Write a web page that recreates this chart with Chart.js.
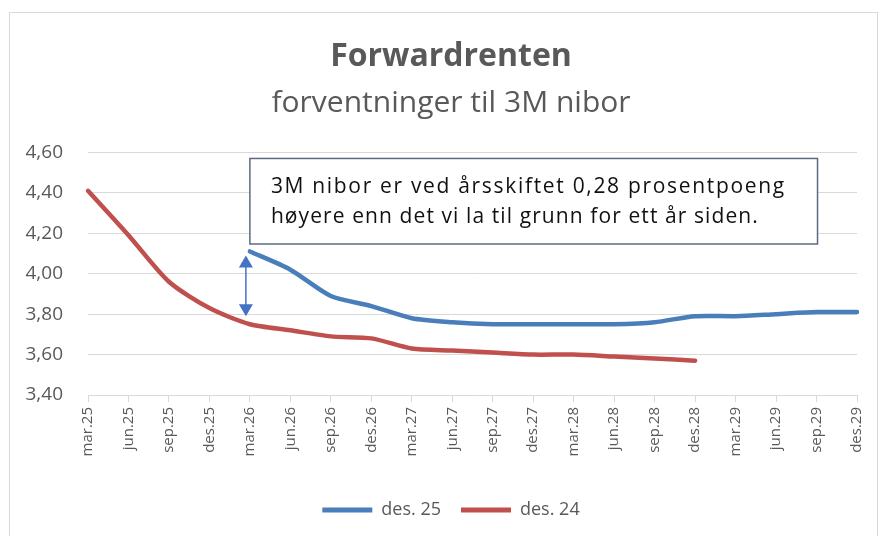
<!DOCTYPE html>
<html lang="no">
<head>
<meta charset="UTF-8">
<title>Forwardrenten</title>
<script src="https://cdn.jsdelivr.net/npm/chart.js@4"></script>
<style>
  html, body { margin: 0; padding: 0; background: #fff; }
  .frame { position: absolute; left: 9px; top: 12px; width: 869px; height: 540px; border: 1px solid #d9d9d9; box-sizing: border-box; }
  .wrap { position: absolute; left: 0; top: 0; width: 880px; height: 536px; }
</style>
</head>
<body>
<div class="frame"></div>
<div class="wrap"><canvas id="chart"></canvas></div>
<script>
// data
const labels = ['mar.25', 'jun.25', 'sep.25', 'des.25', 'mar.26', 'jun.26', 'sep.26', 'des.26',
                'mar.27', 'jun.27', 'sep.27', 'des.27', 'mar.28', 'jun.28', 'sep.28', 'des.28',
                'mar.29', 'jun.29', 'sep.29', 'des.29'];
const des25 = [null, null, null, null, 4.11, 4.02, 3.89, 3.84, 3.78, 3.76, 3.75, 3.75,
               3.75, 3.75, 3.76, 3.79, 3.79, 3.80, 3.81, 3.81];
const des24 = [4.41, 4.19, 3.96, 3.83, 3.75, 3.72, 3.69, 3.68, 3.63, 3.62, 3.61, 3.60,
               3.60, 3.59, 3.58, 3.57, null, null, null, null];
const yTicks = [3.40, 3.60, 3.80, 4.00, 4.20, 4.40, 4.60];
const noteLines = ['3M nibor er ved årsskiftet 0,28 prosentpoeng',
                   'høyere enn det vi la til grunn for ett år siden.'];

const grey = '#595959';
const font = '"Open Sans", sans-serif';

// text box + double arrow between the two curves at mar.26
const notePlugin = {
  id: 'note',
  afterDatasetsDraw(chart) {
    const { ctx, scales: { x, y } } = chart;
    ctx.save();

    // arrow
    const ax = x.getPixelForValue(4) - 4;
    const yTop = y.getPixelForValue(4.09);
    const yBot = y.getPixelForValue(3.79);
    ctx.strokeStyle = '#4472c4';
    ctx.fillStyle = '#4472c4';
    ctx.lineWidth = 1.5;
    ctx.beginPath();
    ctx.moveTo(ax, yTop + 10);
    ctx.lineTo(ax, yBot - 10);
    ctx.stroke();
    ctx.beginPath();
    ctx.moveTo(ax, yTop);
    ctx.lineTo(ax - 7, yTop + 12);
    ctx.lineTo(ax + 7, yTop + 12);
    ctx.closePath();
    ctx.fill();
    ctx.beginPath();
    ctx.moveTo(ax, yBot);
    ctx.lineTo(ax - 7, yBot - 12);
    ctx.lineTo(ax + 7, yBot - 12);
    ctx.closePath();
    ctx.fill();

    // box
    const left = x.getPixelForValue(4);
    const right = x.getPixelForValue(18) + 1;
    const top = y.getPixelForValue(4.57);
    const bottom = y.getPixelForValue(4.147);
    ctx.fillStyle = '#fff';
    ctx.fillRect(left, top, right - left, bottom - top);
    ctx.strokeStyle = '#5b6a7f';
    ctx.lineWidth = 1.5;
    ctx.strokeRect(left, top, right - left, bottom - top);

    // text, spread to the line widths of the reference
    const widths = [515, 488];
    ctx.fillStyle = '#111';
    ctx.font = '21px ' + font;
    ctx.textBaseline = 'middle';
    ctx.textAlign = 'left';
    noteLines.forEach((t, i) => {
      ctx.letterSpacing = '0px';
      const w = ctx.measureText(t).width;
      ctx.letterSpacing = Math.max(0, (widths[i] - w) / t.length) + 'px';
      ctx.fillText(t, left + 21, top + 29 + i * 30);
    });
    ctx.restore();
  }
};

new Chart(document.getElementById('chart'), {
  type: 'line',
  data: {
    labels: labels,
    datasets: [
      { label: 'des. 25', data: des25, borderColor: '#4a7ebb', backgroundColor: '#4a7ebb',
        borderWidth: 4.5, pointRadius: 0, tension: 0.25, borderCapStyle: 'round', borderJoinStyle: 'round' },
      { label: 'des. 24', data: des24, borderColor: '#c0504d', backgroundColor: '#c0504d',
        borderWidth: 4.5, pointRadius: 0, tension: 0.25, borderCapStyle: 'round', borderJoinStyle: 'round' }
    ]
  },
  options: {
    responsive: true,
    maintainAspectRatio: false,
    animation: false,
    // negative right padding + an empty right axis keeps the title centred on the frame
    layout: { padding: { left: 10, right: -12, top: 38, bottom: 7 } },
    plugins: {
      tooltip: { enabled: false },
      title: {
        display: true,
        text: 'Forwardrenten',
        color: grey,
        font: { family: font, size: 32, weight: 'bold' },
        padding: { top: 0, bottom: 9 }
      },
      subtitle: {
        display: true,
        text: 'forventninger til 3M nibor',
        color: grey,
        font: { family: font, size: 30 },
        padding: { top: 0, bottom: 31 }
      },
      legend: {
        position: 'bottom',
        labels: {
          color: grey,
          font: { family: font, size: 18 },
          boxWidth: 50,
          boxHeight: 5,
          padding: 20,
          generateLabels(chart) {
            const items = Chart.defaults.plugins.legend.labels.generateLabels(chart);
            items.forEach(i => { i.lineWidth = 0; i.fillStyle = i.strokeStyle; });
            return items;
          }
        }
      }
    },
    scales: {
      x: {
        afterFit(s) { s.height = 86; },
        grid: { drawOnChartArea: false, color: '#d9d9d9', tickLength: 7 },
        border: { display: false },
        ticks: { color: grey, font: { family: font, size: 15 }, maxRotation: 90, minRotation: 90, padding: 5 }
      },
      y: {
        min: 3.4,
        max: 4.6,
        afterBuildTicks(s) { s.ticks = yTicks.map(v => ({ value: v })); },
        afterFit(s) { s.width = 78; },
        grid: { color: '#d9d9d9', drawTicks: false },
        border: { display: false },
        ticks: {
          color: grey,
          font: { family: font, size: 19 },
          padding: 25,
          callback: v => v.toFixed(2).replace('.', ',')
        }
      },
      yRight: {
        position: 'right',
        min: 3.4,
        max: 4.6,
        afterFit(s) { s.width = 34; },
        grid: { display: false },
        border: { display: false },
        ticks: { display: false }
      }
    }
  },
  plugins: [notePlugin]
});
</script>
</body>
</html>
